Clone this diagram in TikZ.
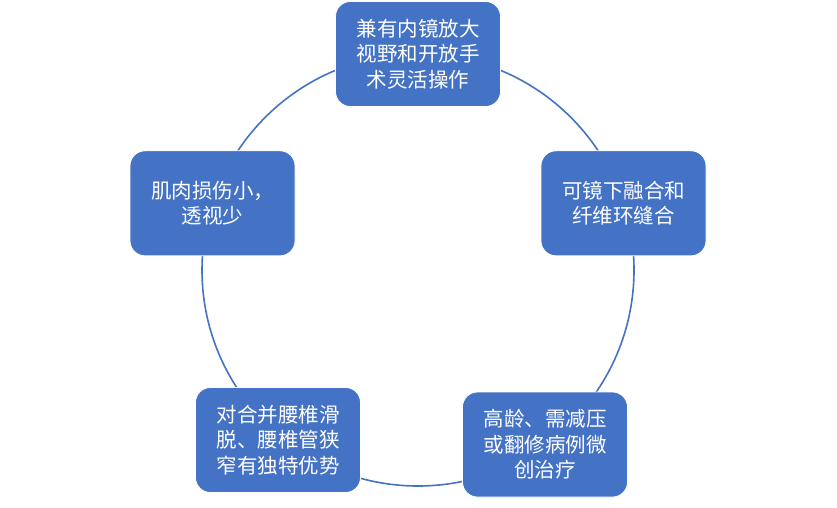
\documentclass[tikz,border=0pt]{standalone}
\usepackage{fontspec}
\newfontfamily\cjk{Noto Sans CJK SC}
\definecolor{boxblue}{HTML}{4472C4}
\begin{document}
\begin{tikzpicture}[x=1pt,y=-1pt,
  item/.style={draw=white, line width=0.8pt, fill=boxblue, text=white,
    rounded corners=15pt, minimum width=165pt, minimum height=105pt,
    inner sep=0pt, align=center, font=\cjk\fontsize{20.5}{25.5}\selectfont},
  ring/.style={draw=boxblue, line width=1.6pt}]
\useasboundingbox (0,0) rectangle (837,507);
\coordinate (c) at (418,270);
\draw[ring] (c) circle (216pt);
\node[item] (n1) at (418,54) {兼有内镜放大\\视野和开放手\\术灵活操作};
\node[item] (n2) at (623.5,203.3) {可镜下融合和\\纤维环缝合};
\node[item] (n3) at (545,444.5) {高龄、需减压\\或翻修病例微\\创治疗};
\node[item] (n4) at (278,440) {对合并腰椎滑\\脱、腰椎管狭\\窄有独特优势};
\node[item] (n5) at (212.5,203.3) {肌肉损伤小，\\透视少};
\end{tikzpicture}
\end{document}
